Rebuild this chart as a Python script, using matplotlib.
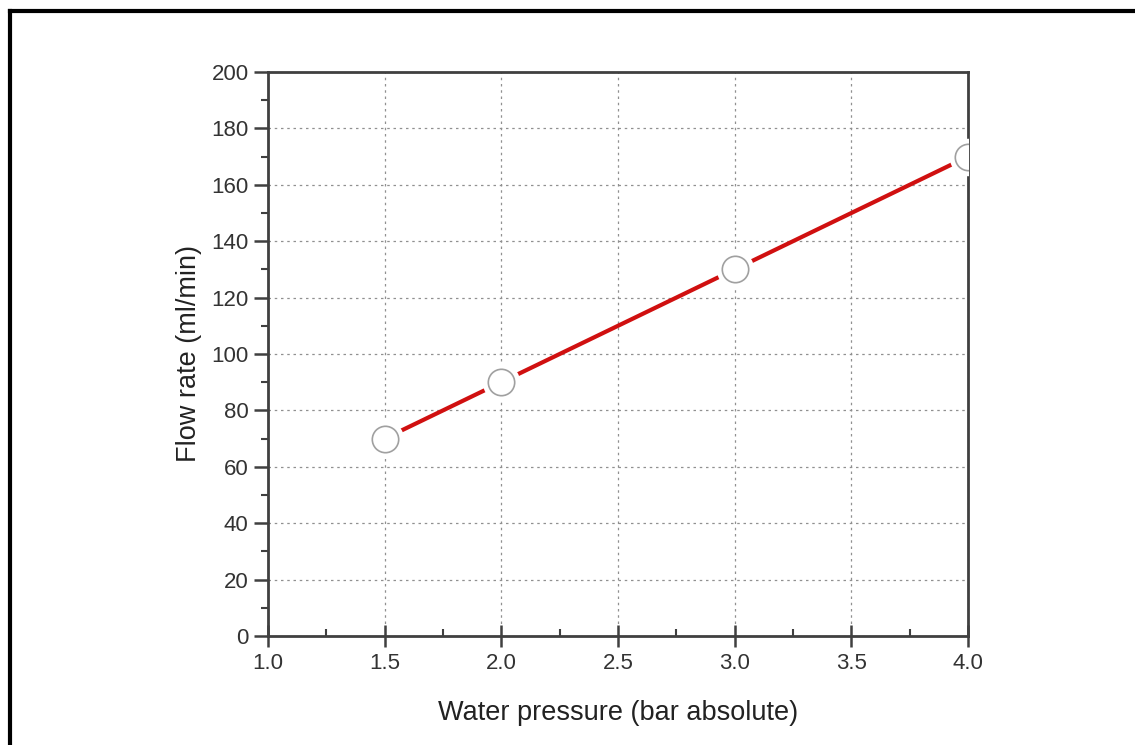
import matplotlib
matplotlib.use("Agg")
from matplotlib import pyplot as plt
from matplotlib.lines import Line2D
from matplotlib.ticker import MultipleLocator

plt.rcParams['font.family'] = ['Liberation Sans', 'DejaVu Sans']

pressure = [1.5, 2.0, 3.0, 4.0]
flow_rate = [70, 90, 130, 170]

fig = plt.figure(figsize=(11.35, 7.45), dpi=100)
ax = fig.add_axes([268 / 1135, 1 - 636 / 745, 700 / 1135, 564 / 745])

# red line, then white halo so the line stops short of markers
ax.plot(pressure, flow_rate, color='#d01010', lw=3, zorder=3)
ax.plot(pressure, flow_rate, ls='none', marker='o', ms=27, mfc='white',
        mec='white', mew=0, zorder=4)
ax.plot(pressure, flow_rate, ls='none', marker='o', ms=19, mfc='white',
        mec='#a0a0a0', mew=1.2, zorder=5)

ax.set_xlim(1.0, 4.0)
ax.set_ylim(0, 200)
ax.xaxis.set_major_locator(MultipleLocator(0.5))
ax.xaxis.set_minor_locator(MultipleLocator(0.25))
ax.yaxis.set_major_locator(MultipleLocator(20))
ax.yaxis.set_minor_locator(MultipleLocator(10))

ax.grid(True, which='major', ls=(0, (2, 3)), color='#909090', lw=0.9)
ax.set_axisbelow(True)

for s in ax.spines.values():
    s.set_color('#404040')
    s.set_linewidth(2)

ax.tick_params(which='major', direction='out', length=10, width=1.8,
               color='#404040', labelsize=16, labelcolor='#333333', pad=4)
ax.tick_params(axis='x', which='major', direction='inout', length=16)
ax.tick_params(which='minor', direction='in', length=5, width=1.5,
               color='#404040')
ax.tick_params(axis='y', which='minor', direction='out', length=5)

ax.set_xlabel('Water pressure (bar absolute)', fontsize=19.5, color='#222222',
              labelpad=19)
ax.set_ylabel('Flow rate (ml/min)', fontsize=19.5, color='#222222', labelpad=7)

# partial frame around the picture (top and left edges)
fig.add_artist(Line2D([10 / 1135, 1.0], [1 - 11 / 745, 1 - 11 / 745],
                      transform=fig.transFigure, color='black', lw=3))
fig.add_artist(Line2D([10 / 1135, 10 / 1135], [0.0, 1 - 11 / 745],
                      transform=fig.transFigure, color='black', lw=3))

fig.savefig('out.png', dpi=100)
